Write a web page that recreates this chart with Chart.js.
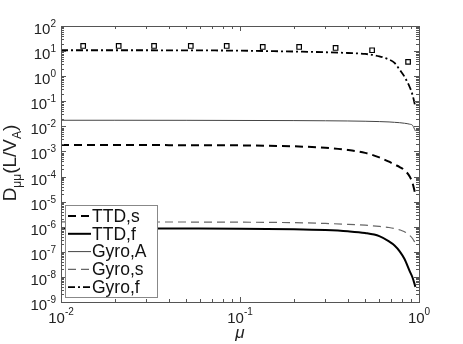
<!DOCTYPE html>
<html>
<head>
<meta charset="utf-8">
<script src="https://cdn.jsdelivr.net/npm/chart.js@4"></script>
<style>
  body { margin: 0; background: #fff; }
  canvas { display: block; }
</style>
</head>
<body>
<canvas id="chart" width="463" height="344"></canvas>
<script>
// values
const mu = [0.01, 0.02, 0.05, 0.1, 0.2, 0.3, 0.4, 0.5, 0.6, 0.68, 0.73, 0.78, 0.83, 0.887, 0.92, 0.955];
const ttdS  = [1.8e-3, 1.8e-3, 1.78e-3, 1.75e-3, 1.6e-3, 1.4e-3, 1.15e-3, 8.8e-4, 5.8e-4, 3.9e-4, 3.0e-4, 2.4e-4, 1.8e-4, 1.0e-4, 5.5e-5, 1.9e-5];
const ttdF  = [8.5e-7, 8.5e-7, 8.45e-7, 8.4e-7, 8.0e-7, 7.4e-7, 6.6e-7, 5.6e-7, 4.2e-7, 2.6e-7, 1.8e-7, 1.05e-7, 5.2e-8, 1.7e-8, 9.5e-9, 4e-9];
const gyroA = [0.0175, 0.0175, 0.0174, 0.0172, 0.017, 0.0167, 0.0164, 0.016, 0.0155, 0.015, 0.0145, 0.014, 0.0133, 0.0122, 0.011, 0.0065];
const gyroS = [1.55e-6, 1.55e-6, 1.54e-6, 1.52e-6, 1.45e-6, 1.35e-6, 1.25e-6, 1.15e-6, 1.03e-6, 9.3e-7, 8.5e-7, 7.5e-7, 6.3e-7, 4.5e-7, 3.4e-7, 2.2e-7];
const gyroF = [10.8, 10.8, 10.7, 10.4, 9.6, 9.0, 8.4, 7.7, 6.2, 4.6, 3.4, 1.8, 0.95, 0.37, 0.18, 0.059];

const sqMu  = [0.0133, 0.021, 0.0331, 0.0531, 0.0843, 0.134, 0.214, 0.342, 0.547, 0.869];
const sqVal = [16, 16, 16, 16, 16, 14.6, 14.6, 13.3, 10.8, 3.7];

const seriesNames = ['TTD,s', 'TTD,f', 'Gyro,A', 'Gyro,s', 'Gyro,f'];
const xTickExp = [-2, -1, 0];
const yTickExp = [-9, -8, -7, -6, -5, -4, -3, -2, -1, 0, 1, 2];

const FONT = '"Liberation Sans", Arial, sans-serif';

const pts = ys => mu.map((m, i) => ({ x: m, y: ys[i] }));

function lineSet(label, ys, color, width, dash) {
  return {
    type: 'line', label, data: pts(ys),
    borderColor: color, borderWidth: width, borderDash: dash,
    pointRadius: 0, fill: false, cubicInterpolationMode: 'monotone'
  };
}

// ticks inside the box, box outline, legend and all text
const decor = {
  id: 'decor',
  afterDatasetsDraw(chart) {
    const { ctx, chartArea: a, scales: { x, y } } = chart;
    ctx.save();
    ctx.strokeStyle = '#555';
    ctx.lineWidth = 1;
    ctx.beginPath();
    for (let d = -2; d < 0; d++) {
      for (let k = 1; k <= 10; k++) {
        const px = Math.round(x.getPixelForValue(k * Math.pow(10, d))) + 0.5;
        const len = (k === 1 || k === 10) ? 5 : 3;
        ctx.moveTo(px, a.bottom); ctx.lineTo(px, a.bottom - len);
        ctx.moveTo(px, a.top); ctx.lineTo(px, a.top + len);
      }
    }
    for (let d = -9; d < 2; d++) {
      for (let k = 1; k <= 10; k++) {
        const py = Math.round(y.getPixelForValue(k * Math.pow(10, d))) + 0.5;
        const len = (k === 1 || k === 10) ? 5 : 3;
        ctx.moveTo(a.left, py); ctx.lineTo(a.left + len, py);
        ctx.moveTo(a.right, py); ctx.lineTo(a.right - len, py);
      }
    }
    ctx.stroke();
    ctx.strokeRect(Math.round(a.left) + 0.5, Math.round(a.top) + 0.5,
                   Math.round(a.right - a.left), Math.round(a.bottom - a.top));

    // legend
    const lx = 65, ly = 205, lw = 92, lh = 92;
    ctx.fillStyle = '#fff';
    ctx.fillRect(lx, ly, lw, lh);
    ctx.strokeStyle = '#888';
    ctx.strokeRect(lx + 0.5, ly + 0.5, lw, lh);
    ctx.font = '17.5px ' + FONT;
    ctx.textBaseline = 'middle';
    seriesNames.forEach((name, i) => {
      const ds = chart.data.datasets[i];
      const ry = ly + 11 + i * 17.8;
      ctx.strokeStyle = ds.borderColor;
      ctx.lineWidth = ds.borderWidth;
      ctx.setLineDash(ds.borderDash || []);
      ctx.beginPath();
      ctx.moveTo(lx + 3, ry); ctx.lineTo(lx + 26, ry);
      ctx.stroke();
      ctx.setLineDash([]);
      ctx.fillStyle = '#111';
      ctx.fillText(name, lx + 27, ry + 1);
    });
    ctx.restore();
  },
  afterDraw(chart) {
    const { ctx, chartArea: a, scales: { x, y } } = chart;
    ctx.save();
    ctx.fillStyle = '#222';
    ctx.textBaseline = 'alphabetic';
    const big = '15px ' + FONT, small = '10px ' + FONT;
    // x tick labels
    xTickExp.forEach(e => {
      const px = x.getPixelForValue(Math.pow(10, e));
      ctx.font = big; const w1 = ctx.measureText('10').width;
      ctx.font = small; const w2 = ctx.measureText(String(e)).width;
      const x0 = px - (w1 + w2) / 2;
      ctx.font = big; ctx.fillText('10', x0, 323);
      ctx.font = small; ctx.fillText(String(e), x0 + w1, 315);
    });
    // y tick labels
    yTickExp.forEach(e => {
      const py = y.getPixelForValue(Math.pow(10, e));
      ctx.font = small; const w2 = ctx.measureText(String(e)).width;
      ctx.textAlign = 'right';
      ctx.fillText(String(e), 56, py + 1);
      ctx.font = big; ctx.fillText('10', 56 - w2, py + 8);
      ctx.textAlign = 'left';
    });
    // x title
    ctx.font = 'italic 17px ' + FONT;
    ctx.textAlign = 'center';
    ctx.fillText('\u03bc', (a.left + a.right) / 2, 338);
    // y title with subscripts
    ctx.textAlign = 'left';
    const parts = [['D', 19, 0], ['\u03bc\u03bc', 12, 5], ['(L/V', 19, 0], ['A', 12, 5], [')', 19, 0]];
    let total = 0;
    parts.forEach(p => { ctx.font = p[1] + 'px ' + FONT; total += ctx.measureText(p[0]).width; });
    ctx.translate(16, 163);
    ctx.rotate(-Math.PI / 2);
    let cx = -total / 2;
    parts.forEach(p => {
      ctx.font = p[1] + 'px ' + FONT;
      ctx.fillText(p[0], cx, p[2]);
      cx += ctx.measureText(p[0]).width;
    });
    ctx.restore();
  }
};

const ctx = document.getElementById('chart');
const chart = new Chart(ctx, {
  data: {
    datasets: [
      lineSet(seriesNames[0], ttdS, '#000', 2, [8, 5]),
      lineSet(seriesNames[1], ttdF, '#000', 2, []),
      lineSet(seriesNames[2], gyroA, '#444', 1, []),
      lineSet(seriesNames[3], gyroS, '#666', 1.2, [8, 5]),
      lineSet(seriesNames[4], gyroF, '#000', 1.8, [7, 3, 2, 3]),
      {
        type: 'scatter', label: 'squares',
        data: sqMu.map((m, i) => ({ x: m, y: sqVal[i] })),
        pointStyle: 'rect', pointRadius: 3.2,
        borderColor: '#000', backgroundColor: '#fff', borderWidth: 1.2
      }
    ]
  },
  options: {
    responsive: false,
    animation: false,
    devicePixelRatio: 1,
    layout: { padding: { left: 0, top: 26, right: 44, bottom: 0 } },
    plugins: { legend: { display: false }, tooltip: { enabled: false } },
    scales: {
      x: {
        type: 'logarithmic', min: 0.01, max: 1,
        grid: { display: false }, border: { display: false },
        ticks: { display: false },
        afterFit: s => { s.height = 42; }
      },
      y: {
        type: 'logarithmic', min: 1e-9, max: 100,
        grid: { display: false }, border: { display: false },
        ticks: { display: false },
        afterFit: s => { s.width = 61; }
      }
    }
  },
  plugins: [decor]
});
</script>
</body>
</html>
